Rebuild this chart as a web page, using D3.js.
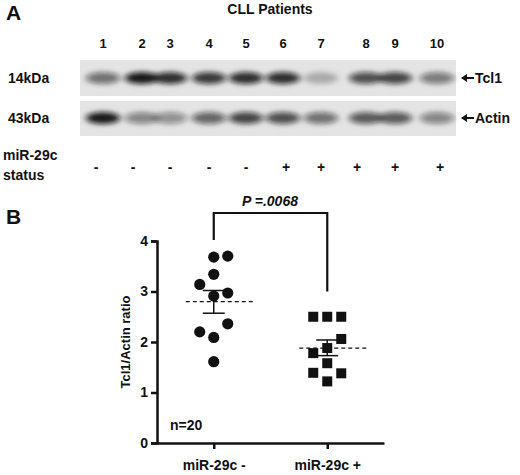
<!DOCTYPE html>
<html lang="en">
<head>
<meta charset="UTF-8">
<script src="https://d3js.org/d3.v7.min.js"></script>
<style>
  body { margin: 0; background: #fff; }
  text { font-family: Arial, "Liberation Sans", sans-serif; font-weight: bold; fill: #111; }
</style>
</head>
<body>
<div id="chart"></div>
<script>
// Panel A: blot lanes
const lanes = ["1","2","3","4","5","6","7","8","9","10"];
const tcl1Intensity = [0.55, 0.95, 0.85, 0.8, 0.85, 0.85, 0.25, 0.7, 0.75, 0.5];
const actinIntensity = [0.95, 0.45, 0.4, 0.6, 0.75, 0.7, 0.55, 0.65, 0.65, 0.45];
const status = ["-","-","-","-","-","+","+","+","+","+"];
// Panel B: ratios
const groups = ["miR-29c -", "miR-29c +"];
const negValues = [3.68, 3.70, 3.34, 3.14, 2.97, 2.91, 2.36, 2.20, 2.09, 1.61];
const negOffset = [0, 1, 0, -1, 1, 0, 1, -1, 0, 0];
const posValues = [2.50, 2.50, 2.50, 2.06, 1.88, 1.78, 1.58, 1.39, 1.38, 1.22];
const posOffset = [-1, 0, 1, 1, 0, -1, 0, -1, 1, 0];
const means = [2.80, 1.88];
const semLow = [2.57, 1.73];
const semHigh = [3.02, 2.04];
const yTicks = [0, 1, 2, 3, 4];

const svg = d3.select("#chart").append("svg").attr("width", 520).attr("height", 475);
const defs = svg.append("defs");
defs.append("filter").attr("id", "blur").attr("x", "-50%").attr("y", "-100%").attr("width", "200%").attr("height", "300%")
  .append("feGaussianBlur").attr("stdDeviation", "3 2.5");

// ---- Panel A
svg.append("text").attr("x", 6).attr("y", 20).style("font-size", "21px").text("A");
svg.append("text").attr("x", 270).attr("y", 14).attr("text-anchor", "middle").style("font-size", "14px").text("CLL Patients");

const laneX = d3.scaleOrdinal().domain(lanes).range([103, 142, 170, 209, 246, 283, 321, 366, 395, 437]);
svg.selectAll(".lane").data(lanes).enter().append("text")
  .attr("x", d => laneX(d)).attr("y", 48).attr("text-anchor", "middle").style("font-size", "13px").text(d => d);

function strip(y0, h, vals, dy, label, name) {
  svg.append("rect").attr("x", 80).attr("y", y0).attr("width", 376).attr("height", h).attr("fill", "#e4e4e4");
  const g = svg.append("g").attr("filter", "url(#blur)");
  g.selectAll("ellipse").data(lanes).enter().append("ellipse")
    .attr("cx", d => laneX(d)).attr("cy", y0 + dy).attr("rx", 17).attr("ry", 6)
    .attr("fill", "#111").attr("opacity", (d, i) => vals[i]);
  svg.append("text").attr("x", 8).attr("y", y0 + dy + 5).style("font-size", "14px").text(label);
  svg.append("text").attr("x", 475).attr("y", y0 + dy + 5).style("font-size", "14px").text(name);
  svg.append("line").attr("x1", 462).attr("x2", 474).attr("y1", y0 + dy).attr("y2", y0 + dy).attr("stroke", "#111").attr("stroke-width", 2);
  svg.append("path").attr("d", `M461,${y0 + dy} l6,-4 l0,8 z`).attr("fill", "#111");
}
strip(60, 36, tcl1Intensity, 18, "14kDa", "Tcl1");
strip(101, 35, actinIntensity, 17, "43kDa", "Actin");

svg.append("text").attr("x", 3).attr("y", 160).style("font-size", "14px").text("miR-29c");
svg.append("text").attr("x", 3).attr("y", 180).style("font-size", "14px").text("status");
svg.selectAll(".st").data(lanes).enter().append("text")
  .attr("x", (d, i) => [96, 133, 170, 209, 246, 286, 321, 357, 395, 440][i]).attr("y", 172)
  .attr("text-anchor", "middle").style("font-size", "14px").text((d, i) => status[i]);

// ---- Panel B
svg.append("text").attr("x", 6).attr("y", 224).style("font-size", "21px").text("B");
const x = d3.scalePoint().domain(groups).range([157, 384]).padding(0.5);
const y = d3.scaleLinear().domain([0, 4]).range([443, 241]);

const yAxis = svg.append("g").attr("transform", "translate(157,0)")
  .call(d3.axisLeft(y).tickValues(yTicks).tickSize(6).tickFormat(d3.format("d")));
const xAxis = svg.append("g").attr("transform", "translate(0,443)")
  .call(d3.axisBottom(x).tickSize(6).tickSizeOuter(0));
[yAxis, xAxis].forEach(a => {
  a.selectAll("path, line").attr("stroke", "#111").attr("stroke-width", 2.5);
  a.selectAll("text").style("font-size", "14px").style("font-family", "Arial, 'Liberation Sans', sans-serif").style("font-weight", "bold").attr("fill", "#111");
});
xAxis.selectAll("text").attr("dy", "1.3em");

svg.append("text").attr("transform", "translate(130,342) rotate(-90)").attr("text-anchor", "middle")
  .style("font-size", "13px").text("Tcl1/Actin ratio");
svg.append("text").attr("x", 170).attr("y", 430).style("font-size", "14px").text("n=20");

// means and SEM
groups.forEach((gname, i) => {
  const cx = x(gname);
  svg.append("line").attr("x1", cx - 28).attr("x2", cx + 40).attr("y1", y(means[i])).attr("y2", y(means[i]))
    .attr("stroke", "#111").attr("stroke-width", 1.3).attr("stroke-dasharray", "4,3");
  svg.append("line").attr("x1", cx).attr("x2", cx).attr("y1", y(semLow[i])).attr("y2", y(semHigh[i])).attr("stroke", "#111").attr("stroke-width", 1.5);
  [semLow[i], semHigh[i]].forEach(v => svg.append("line").attr("x1", cx - 11).attr("x2", cx + 11)
    .attr("y1", y(v)).attr("y2", y(v)).attr("stroke", "#111").attr("stroke-width", 1.5));
});

svg.selectAll(".neg").data(negValues).enter().append("circle")
  .attr("cx", (d, i) => x(groups[0]) + negOffset[i] * 14).attr("cy", d => y(d)).attr("r", 5.6).attr("fill", "#111");
svg.selectAll(".pos").data(posValues).enter().append("rect")
  .attr("x", (d, i) => x(groups[1]) + posOffset[i] * 14 - 5).attr("y", d => y(d) - 5).attr("width", 10).attr("height", 10).attr("fill", "#111");

// significance bracket
const bx1 = x(groups[0]), bx2 = x(groups[1]), bracketTop = 213;
svg.append("path").attr("d", `M${bx1},${y(4) - 1} V${bracketTop} H${bx2} V${y(3)}`)
  .attr("fill", "none").attr("stroke", "#111").attr("stroke-width", 2.2);
svg.append("text").attr("x", 270).attr("y", 206).attr("text-anchor", "middle").style("font-size", "14px")
  .style("font-style", "italic").text("P =.0068");
</script>
</body>
</html>
